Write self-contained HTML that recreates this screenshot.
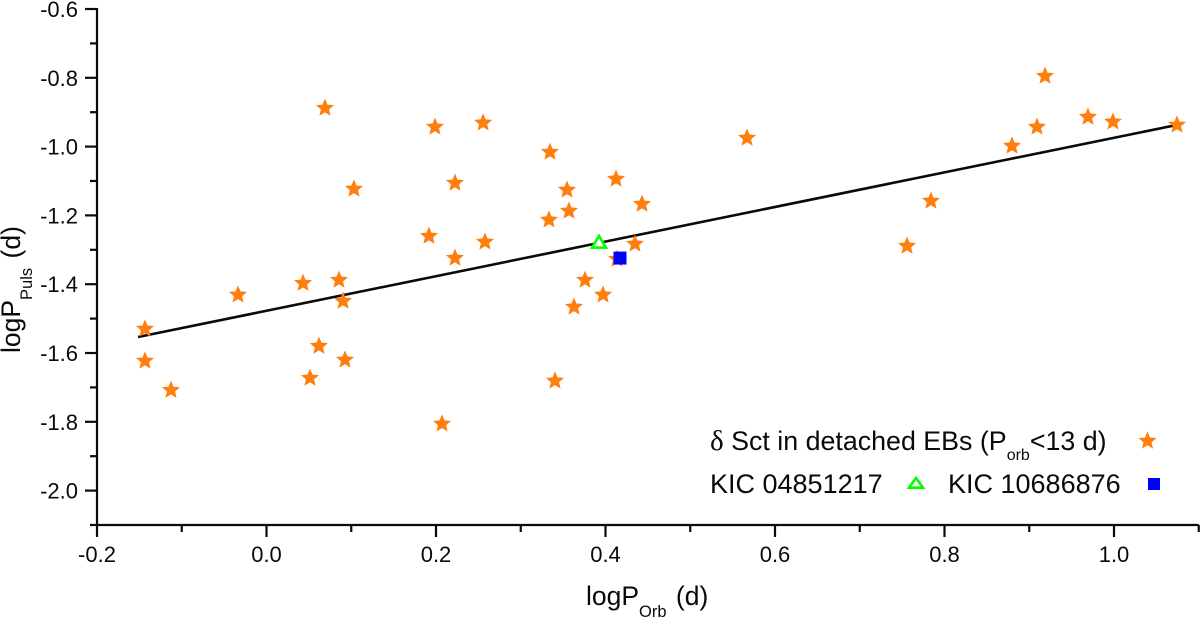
<!DOCTYPE html>
<html>
<head>
<meta charset="utf-8">
<style>
html,body{margin:0;padding:0;background:#fff;}
svg{display:block;}
text{font-family:"Liberation Sans",sans-serif;fill:#0a0a0a;}
</style>
</head>
<body>
<svg id="chart" width="1200" height="618" viewBox="0 0 1200 618" xmlns="http://www.w3.org/2000/svg">
<rect width="1200" height="618" fill="#fff"/>
<g id="fit"></g>
<g id="stars"></g>
<g id="special"></g>
<g id="axes"></g>
<text x="586" y="605" font-size="26.500">logP<tspan font-size="16.500" dy="12">Orb</tspan><tspan dy="-12" dx="2"> (d)</tspan></text>
<text transform="translate(20,353) rotate(-90)" font-size="26.500">logP<tspan font-size="16.500" dy="12">Puls</tspan><tspan dy="-12" dx="2"> (d)</tspan></text>
<g>
<text x="710" y="450" font-size="26.800"><tspan font-family="Liberation Serif" font-size="29">δ</tspan> Sct in detached EBs (P<tspan font-size="16" dy="10">orb</tspan><tspan dy="-10">&lt;13 d)</tspan></text>
<text x="710" y="493" font-size="27">KIC 04851217</text>
<text x="948" y="493" font-size="27">KIC 10686876</text>
<polygon id="legendStar" fill="#ff7f0e"/>
<polygon points="916,478 909,487.700 923,487.700" fill="none" stroke="#00ff00" stroke-width="2.600"/>
<rect x="1148" y="478" width="12" height="12" fill="#0000ff"/>
</g>
</svg>
<script>
const starX = [-0.1434,-0.1434,-0.1127,-0.0336,0.0431,0.0855,0.0903,0.0619,0.0513,0.0926,0.069,0.1032,0.1988,0.2556,0.1917,0.2224,0.2224,0.2578,0.2071,0.3345,0.3333,0.3546,0.3569,0.4124,0.4431,0.4348,0.4136,0.3758,0.3628,0.3971,0.3404,0.567,0.7558,0.784,0.8797,0.9091,0.9186,0.9693,0.9988,1.0743];
const starY = [-1.530,-1.623,-1.708,-1.431,-1.397,-1.388,-1.449,-1.580,-1.673,-1.620,-0.888,-1.123,-0.943,-0.931,-1.260,-1.106,-1.324,-1.277,-1.806,-1.016,-1.213,-1.126,-1.187,-1.094,-1.167,-1.283,-1.327,-1.388,-1.466,-1.431,-1.681,-0.975,-1.289,-1.158,-0.998,-0.943,-0.795,-0.914,-0.928,-0.937];
const fitX = [-0.1516,1.0743];
const fitY = [-1.5535,-0.937];
const triangleX = [0.3923];
const triangleY = [-1.280];
const squareX = [0.4171];
const squareY = [-1.324];
const xTickLabels = ["-0.2","0.0","0.2","0.4","0.6","0.8","1.0"];
const yTickLabels = ["-0.6","-0.8","-1.0","-1.2","-1.4","-1.6","-1.8","-2.0"];

const NS = "http://www.w3.org/2000/svg";
const px = v => 97 + (v + 0.2) * 847.5;
const py = v => 9 + (-0.6 - v) * 344;
function mk(tag, parent, attrs) {
  const e = document.createElementNS(NS, tag);
  for (const k in attrs) e.setAttribute(k, attrs[k]);
  parent.appendChild(e);
  return e;
}
function starPoints(cx, cy, R) {
  const r = R * 0.45, out = [];
  for (let i = 0; i < 10; i++) {
    const a = -Math.PI / 2 + i * Math.PI / 5, q = i % 2 ? r : R;
    out.push((cx + q * Math.cos(a)).toFixed(2) + "," + (cy + q * Math.sin(a)).toFixed(2));
  }
  return out.join(" ");
}
const axes = document.getElementById("axes");
const axisStyle = {stroke:"#0a0a0a", "stroke-width":2.2};

const xAxisLine = mk("line", axes, Object.assign({x1:px(-0.2), x2:px(1.1), y1:525, y2:525}, axisStyle));


const yAxisLine = mk("line", axes, Object.assign({x1:97, x2:97, y1:py(-0.6)-1, y2:526}, axisStyle));



xTickLabels.forEach((label) => {
  const v = parseFloat(label), x = px(v);
  const t = mk("line", axes, Object.assign({x1:x, x2:x, y1:525, y2:537}, axisStyle));
  
  
  const m = mk("line", axes, Object.assign({x1:px(v+0.1), x2:px(v+0.1), y1:525, y2:532}, axisStyle));
  
  
  const l = mk("text", axes, {x:x, y:562, "font-size":22, "text-anchor":"middle"});
  l.textContent = label;
  
  
});
yTickLabels.forEach((label) => {
  const v = parseFloat(label), y = py(v);
  const t = mk("line", axes, Object.assign({x1:85, x2:97, y1:y, y2:y}, axisStyle));
  
  
  const m = mk("line", axes, Object.assign({x1:90, x2:97, y1:py(v-0.1), y2:py(v-0.1)}, axisStyle));
  
  
  const l = mk("text", axes, {x:78, y:y+8, "font-size":22, "text-anchor":"end"});
  l.textContent = label;
  
  
});

const fitLine = mk("line", document.getElementById("fit"), {x1:px(fitX[0]), y1:py(fitY[0]), x2:px(fitX[1]), y2:py(fitY[1]), stroke:"#0a0a0a", "stroke-width":2.6});



const starGroup = document.getElementById("stars");
starX.forEach((v, i) => {
  const s = mk("polygon", starGroup, {points:starPoints(px(v), py(starY[i]), 9.5), fill:"#ff7f0e"});
  
  
});

const special = document.getElementById("special");
triangleX.forEach((v, i) => {
  const cx = px(v), cy = py(triangleY[i]);
  const t = mk("polygon", special, {points:`${cx},${cy-7} ${cx-7},${cy+4.7} ${cx+7},${cy+4.7}`, fill:"#fff", stroke:"#00ff00", "stroke-width":2.6});
  
  
});
squareX.forEach((v, i) => {
  const r = mk("rect", special, {x:px(v)-6.5, y:py(squareY[i])-6.5, width:13, height:13, fill:"#0000ff"});
  
  
});
document.getElementById("legendStar").setAttribute("points", starPoints(1147.5, 441, 9.5));
</script>
</body>
</html>
